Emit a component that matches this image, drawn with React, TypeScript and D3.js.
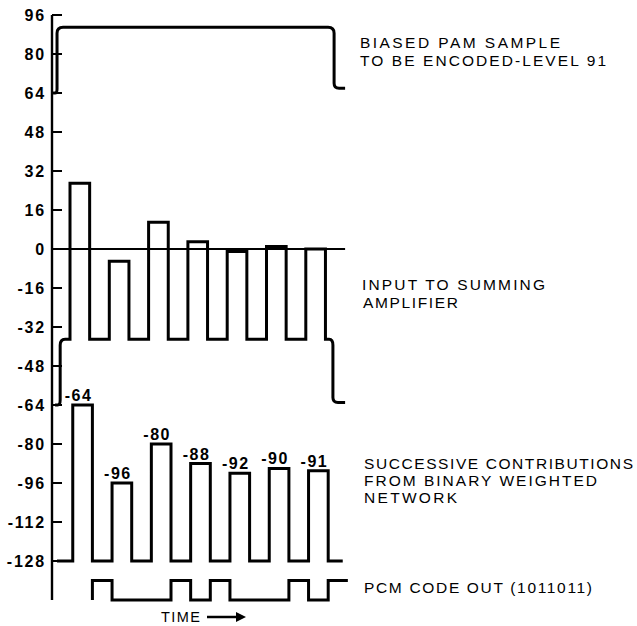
import React from "react";
import * as d3 from "d3";

const W = 637;
const H = 626;

// ---- data ----
const tickValues = [96, 80, 64, 48, 32, 16, 0, -16, -32, -48, -64, -80, -96, -112, -128];
const contributions = [-64, -96, -80, -88, -92, -90, -91];
const contributionLabels = ["-64", "-96", "-80", "-88", "-92", "-90", "-91"];
const pcmBits = [1, 0, 1, 1, 0, 1, 1];
const pamLevel = 91;
const pamBefore = 64;
const pamAfter = 66;
const contributionBase = -128;
const pcmHigh = -136;
const pcmLow = -144;

const rightLabels = [
  { text: "BIASED PAM SAMPLE", x: 360, y: 48, len: 200 },
  { text: "TO BE ENCODED-LEVEL 91", x: 360, y: 66, len: 246 },
  { text: "INPUT TO SUMMING", x: 362, y: 290, len: 183 },
  { text: "AMPLIFIER", x: 363, y: 308, len: 95 },
  { text: "SUCCESSIVE CONTRIBUTIONS", x: 364, y: 469, len: 269 },
  { text: "FROM BINARY WEIGHTED", x: 364, y: 486, len: 233 },
  { text: "NETWORK", x: 364, y: 503, len: 93 },
  { text: "PCM CODE OUT (1011011)", x: 364, y: 593, len: 228 },
];

// ---- scales ----
const y = d3.scaleLinear().domain([96, -144]).range([15, 600]);
const x = d3.scaleLinear().domain([0, 7]).range([70, 70 + 39.3 * 7]);
const pulseWidth = 0.5;
const lowerLag = 0.07;
const axisX = 52;

type P = [number, number, number?]; // t, value, corner radius

function roundedPath(pts: P[], lag = 0): string {
  const px = pts.map((p) => [x(p[0] + lag), y(p[1]), p[2] || 0]);
  const path = d3.path();
  path.moveTo(px[0][0], px[0][1]);
  for (let i = 1; i < px.length - 1; i++) {
    const [x0, y0] = px[i - 1];
    const [x1, y1, r] = px[i];
    const [x2, y2] = px[i + 1];
    if (!r) {
      path.lineTo(x1, y1);
      continue;
    }
    const d1 = Math.hypot(x1 - x0, y1 - y0) || 1;
    const d2 = Math.hypot(x2 - x1, y2 - y1) || 1;
    const r1 = Math.min(r, d1 / 2);
    const r2 = Math.min(r, d2 / 2);
    path.lineTo(x1 - ((x1 - x0) / d1) * r1, y1 - ((y1 - y0) / d1) * r1);
    path.quadraticCurveTo(x1, y1, x1 + ((x2 - x1) / d2) * r2, y1 + ((y2 - y1) / d2) * r2);
  }
  const last = px[px.length - 1];
  path.lineTo(last[0], last[1]);
  return path.toString();
}

// top: biased PAM sample
const pamPts: P[] = [
  [-0.43, pamBefore],
  [-0.33, pamBefore, 4],
  [-0.33, pamLevel, 6],
  [6.72, pamLevel, 6],
  [6.72, pamAfter, 5],
  [7, pamAfter],
];

// middle: input to summing amplifier
const inputBase = pamLevel + contributionBase;
const inputPts: P[] = [
  [-0.38, pamBefore + contributionBase],
  [-0.25, pamBefore + contributionBase, 5],
  [-0.25, inputBase, 6],
];
contributions.forEach((c, i) => {
  const v = pamLevel + c;
  inputPts.push([i, inputBase], [i, v], [i + pulseWidth, v], [i + pulseWidth, inputBase]);
});
inputPts.push([6.69, inputBase, 6], [6.69, pamAfter + contributionBase - 1, 5], [7, pamAfter + contributionBase - 1]);

// lower: successive contributions
const contribPts: P[] = [[-0.4, contributionBase]];
contributions.forEach((c, i) => {
  contribPts.push([i, contributionBase], [i, c], [i + pulseWidth, c], [i + pulseWidth, contributionBase]);
});
contribPts.push([6.87, contributionBase]);

// PCM code
const pcmPts: P[] = [];
pcmBits.forEach((b, i) => {
  const lev = b ? pcmHigh : pcmLow;
  pcmPts.push([i + 0.5, pcmLow], [i + 0.5, lev], [i + 1, lev]);
  if (i < pcmBits.length - 1) pcmPts.push([i + 1, pcmLow]);
});

const font = "'Liberation Sans', Arial, sans-serif";

export default function App() {
  return (
    <svg
      width={W}
      height={H}
      viewBox={`0 0 ${W} ${H}`}
      style={{ position: "absolute", left: 0, top: 0, background: "#fff" }}
    >
      <rect width={W} height={H} fill="#fff" />
      {/* axis */}
      <line x1={axisX} x2={axisX} y1={y(96)} y2={y(-144)} stroke="#000" strokeWidth={2.4} />
      {tickValues.map((v) => (
        <g key={v}>
          <line x1={axisX} x2={axisX + 10} y1={y(v)} y2={y(v)} stroke="#000" strokeWidth={2} />
          <text
            x={46}
            y={y(v) + 5.5}
            textAnchor="end"
            fontFamily={font}
            fontSize={16}
            fontWeight={700}
            letterSpacing={1.8}
            fill="#000"
          >
            {v < 0 ? `-${Math.abs(v)}` : v}
          </text>
        </g>
      ))}
      {/* zero line */}
      <line x1={axisX} x2={x(7)} y1={y(0)} y2={y(0)} stroke="#000" strokeWidth={2} />

      <path d={roundedPath(pamPts)} fill="none" stroke="#000" strokeWidth={3} strokeLinejoin="miter" />
      <path d={roundedPath(inputPts)} fill="none" stroke="#000" strokeWidth={3} strokeLinejoin="miter" />
      <path d={roundedPath(contribPts, lowerLag)} fill="none" stroke="#000" strokeWidth={3} strokeLinejoin="miter" />
      <path d={roundedPath(pcmPts, lowerLag)} fill="none" stroke="#000" strokeWidth={3} strokeLinejoin="miter" />

      {contributions.map((c, i) => (
        <text
          key={i}
          x={x(i + lowerLag + pulseWidth / 2) - 4}
          y={y(c) - 4}
          textAnchor="middle"
          fontFamily={font}
          fontSize={16}
          fontWeight={700}
          letterSpacing={1.5}
          fill="#000"
        >
          {contributionLabels[i]}
        </text>
      ))}

      {rightLabels.map((l) => (
        <text
          key={l.text}
          x={l.x}
          y={l.y}
          textLength={l.len}
          lengthAdjust="spacing"
          fontFamily={font}
          fontSize={15.5}
          fill="#000"
        >
          {l.text}
        </text>
      ))}

      {/* TIME arrow */}
      <text x={161} y={622} textLength={39} lengthAdjust="spacing" fontFamily={font} fontSize={14.5} fill="#000">
        TIME
      </text>
      <line x1={207} x2={238} y1={617} y2={617} stroke="#000" strokeWidth={2.5} />
      <path d="M236,612 L246,617 L236,622 Z" fill="#000" />
    </svg>
  );
}
